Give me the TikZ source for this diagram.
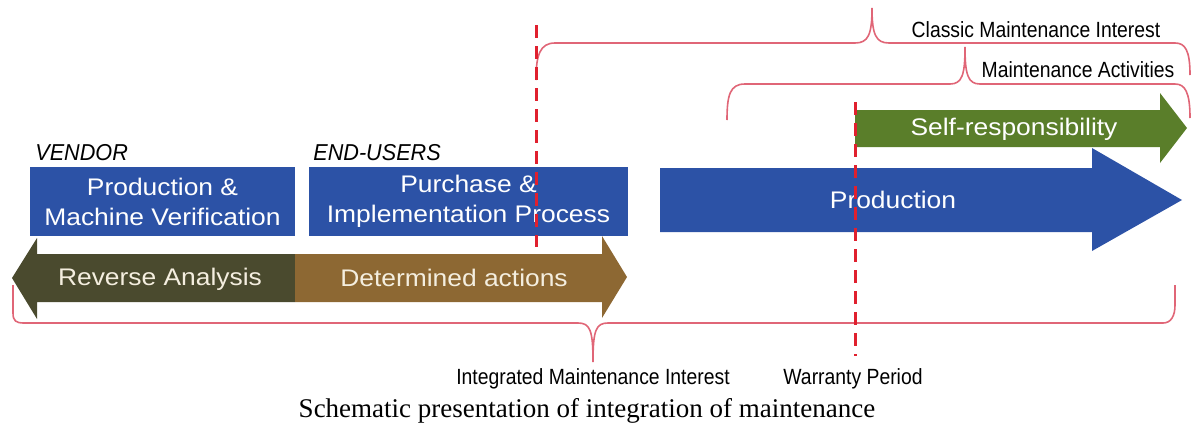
\documentclass[tikz,border=0pt]{standalone}
\usepackage{fontspec}
\setmainfont{Liberation Sans}
\newfontfamily\boxfont[FakeStretch=1.1]{Liberation Sans}
\newfontfamily\partyfont[FakeStretch=0.94]{Liberation Sans}
\newfontfamily\notefont[FakeStretch=0.88]{Liberation Sans}
\newfontfamily\capfont{Liberation Serif}

\definecolor{boxblue}{HTML}{2C52A6}
\definecolor{selfgreen}{HTML}{5A7E2A}
\definecolor{revolive}{HTML}{4A4A2E}
\definecolor{detbrown}{HTML}{8D6833}
\definecolor{cutred}{HTML}{E0202E}
\definecolor{bracered}{HTML}{E06677}
\definecolor{cream}{HTML}{F4EEDF}

\tikzset{
  block/.style={fill=boxblue,inner sep=0pt,text=white,align=center,
    font=\boxfont\fontsize{12}{15}\selectfont},
  arrowtext/.style={inner sep=0pt,text=white,font=\boxfont\fontsize{12}{15}\selectfont},
  party/.style={anchor=base west,inner sep=0pt,font=\partyfont\fontsize{11.5}{13}\selectfont\itshape},
  note/.style={anchor=base,inner sep=0pt,font=\notefont\fontsize{11}{13}\selectfont},
  bracket/.style={draw=bracered,line width=0.8pt},
  cutline/.style={draw=cutred,line width=1.5pt,dash pattern=on 6.5pt off 4pt}
}

\begin{document}
\begin{tikzpicture}[x=0.5pt,y=-0.5pt]
  \useasboundingbox (0,0) rectangle (1193,429);

  % vendor and end-user boxes
  \node[block,minimum width=132.5pt,minimum height=34.5pt] (verify) at (162.5,201.5)
    {Production \&\\Machine Verification};
  \node[block,minimum width=159.5pt,minimum height=34.5pt] (purchase) at (468.5,201.5)
    {Purchase \&\\Implementation Process};
  \node[party] (vendor) at (35,160) {VENDOR};
  \node[party] (endusers) at (313,160) {END-USERS};

  % two coloured arrow below the boxes
  \fill[revolive] (295,254) -- (37,254) -- (37,238) -- (12,278) -- (37,319)
    -- (37,302) -- (295,302) -- cycle;
  \fill[detbrown] (295,254) -- (602,254) -- (602,236) -- (627,277) -- (602,318)
    -- (602,302) -- (295,302) -- cycle;
  \node[arrowtext,text=cream] (reverse) at (160,279) {Reverse Analysis};
  \node[arrowtext,text=cream] (determined) at (454,278) {Determined actions};

  % production and self-responsibility
  \fill[boxblue] (660,168) -- (1092,168) -- (1092,148) -- (1182,200) -- (1092,251)
    -- (1092,232) -- (660,232) -- cycle;
  \fill[selfgreen] (855,110) -- (1160,110) -- (1160,93) -- (1187,128) -- (1160,163)
    -- (1160,147) -- (855,147) -- cycle;
  \node[arrowtext] (production) at (893,200) {Production};
  \node[arrowtext] (self) at (1014,129) {Self-responsibility};

  % brackets
  \draw[bracket] (13,285) -- (13,313) .. controls (13,321) and (16,323) .. (24,323)
    -- (578,323) .. controls (590,323) and (593,330) .. (593,362)
    .. controls (593,330) and (596,323) .. (608,323)
    -- (1163,323) .. controls (1171,323) and (1175,316) .. (1175,305) -- (1175,285);
  \draw[bracket] (536,80) .. controls (536,55) and (540,43) .. (555,43)
    -- (855,43) .. controls (868,43) and (872,35) .. (872,8)
    .. controls (872,35) and (876,43) .. (889,43)
    -- (1175,43) .. controls (1185,43) and (1190,50) .. (1190,75);
  \draw[bracket] (727,120) .. controls (727,95) and (730,84) .. (745,84)
    -- (950,84) .. controls (962,84) and (965,75) .. (965,47)
    .. controls (965,75) and (968,84) .. (980,84)
    -- (1175,84) .. controls (1185,84) and (1190,92) .. (1190,118);

  % cut lines
  \coordinate (int top) at (536,25);
  \coordinate (int bot) at (536,247);
  \coordinate (war top) at (855,102);
  \coordinate (war bot) at (855,356);
  \draw[cutline] (int top) -- (int bot);
  \draw[cutline] (war top) -- (war bot);

  % labels
  \node[note] (classic) at (1036,37) {Classic Maintenance Interest};
  \node[note] (activities) at (1078,77) {Maintenance Activities};
  \node[note] (integrated) at (593,384) {Integrated Maintenance Interest};
  \node[note] (warranty) at (853,384) {Warranty Period};
  \node[anchor=base,inner sep=0pt,font=\capfont\fontsize{13.5}{16}\selectfont] (caption)
    at (587,417) {Schematic presentation of integration of maintenance};
\end{tikzpicture}
\end{document}
